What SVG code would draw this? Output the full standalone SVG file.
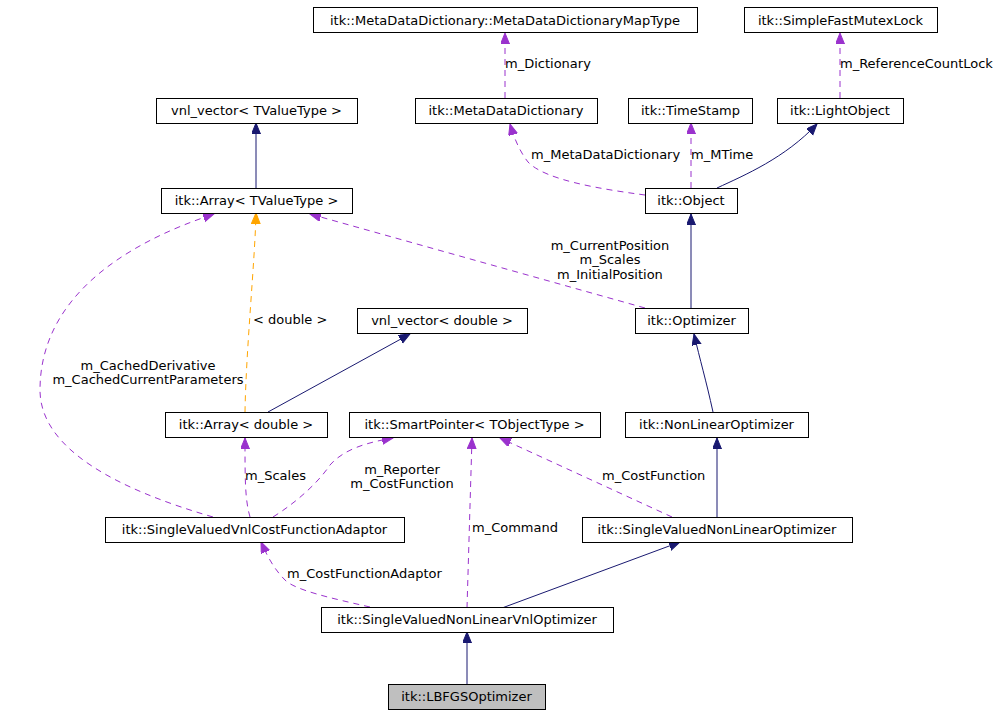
<svg xmlns="http://www.w3.org/2000/svg" width="1004" height="715" viewBox="0 0 1004 715">
<defs>
<style>
.n rect{fill:#fff;stroke:#000;stroke-width:1}
.n text,.lb{font-family:"DejaVu Sans",sans-serif;font-size:13px;fill:#000;text-anchor:middle}
.lb{text-anchor:start}
.lc{text-anchor:middle}
.inh{fill:none;stroke:#191970;stroke-width:1}
.use{fill:none;stroke:#9a32cd;stroke-width:1;stroke-dasharray:6,5}
.tpl{fill:none;stroke:#ffa500;stroke-width:1;stroke-dasharray:6,5}
</style>
<marker id="aN" markerUnits="userSpaceOnUse" markerWidth="12" markerHeight="10" refX="11" refY="4.5" orient="auto"><path d="M0,0 L11,4.5 L0,9 z" fill="#191970" stroke="#191970"/></marker>
<marker id="aP" markerUnits="userSpaceOnUse" markerWidth="12" markerHeight="10" refX="11" refY="4.5" orient="auto"><path d="M0,0 L11,4.5 L0,9 z" fill="#9a32cd" stroke="#9a32cd"/></marker>
<marker id="aO" markerUnits="userSpaceOnUse" markerWidth="12" markerHeight="10" refX="11" refY="4.5" orient="auto"><path d="M0,0 L11,4.5 L0,9 z" fill="#ffa500" stroke="#ffa500"/></marker>
</defs>
<rect width="1004" height="715" fill="#fff"/>
<g id="edges">
<path class="use" d="M505,98 L505,33" marker-end="url(#aP)"/>
<path class="use" d="M840,98 L840,33" marker-end="url(#aP)"/>
<path class="inh" d="M256,188 L256,123" marker-end="url(#aN)"/>
<path class="use" d="M645,195 C600,189 545,180 528,162 C520,152 514,138 510,124" marker-end="url(#aP)"/>
<path class="use" d="M691,188 L691,123" marker-end="url(#aP)"/>
<path class="inh" d="M717,188 C745,175 785,158 817,124" marker-end="url(#aN)"/>
<path class="use" d="M645,308 L310,214" marker-end="url(#aP)"/>
<path class="inh" d="M691,308 L691,214" marker-end="url(#aN)"/>
<path class="inh" d="M713,412 C706,380 700,360 694,334" marker-end="url(#aN)"/>
<path class="inh" d="M268,412 L410,334" marker-end="url(#aN)"/>
<path class="tpl" d="M245,412 C246,350 255,260 256,213" marker-end="url(#aO)"/>
<path class="use" d="M213,517 C120,490 40,450 40,390 C40,300 120,245 214,214" marker-end="url(#aP)"/>
<path class="use" d="M250,517 C245,500 245,480 245,438" marker-end="url(#aP)"/>
<path class="use" d="M273,517 C300,500 320,480 330,465 C345,448 370,442 393,438" marker-end="url(#aP)"/>
<path class="use" d="M467,608 L472,438" marker-end="url(#aP)"/>
<path class="use" d="M672,517 L500,438" marker-end="url(#aP)"/>
<path class="inh" d="M717,517 L717,438" marker-end="url(#aN)"/>
<path class="inh" d="M502,608 L680,542" marker-end="url(#aN)"/>
<path class="use" d="M370,607 C330,598 295,590 285,580 C275,570 268,558 261,542" marker-end="url(#aP)"/>
<path class="inh" d="M467,684 L467,632" marker-end="url(#aN)"/>
<text class="lb" x="505" y="68">m_Dictionary</text>
<text class="lb" x="840" y="68">m_ReferenceCountLock</text>
<text class="lb" x="531" y="159">m_MetaDataDictionary</text>
<text class="lb" x="691" y="159">m_MTime</text>
<text class="lb lc" x="610" y="250">m_CurrentPosition</text>
<text class="lb lc" x="610" y="264">m_Scales</text>
<text class="lb lc" x="610" y="279">m_InitialPosition</text>
<text class="lb" x="253" y="324">&lt; double &gt;</text>
<text class="lb lc" x="148" y="370">m_CachedDerivative</text>
<text class="lb lc" x="148" y="384">m_CachedCurrentParameters</text>
<text class="lb" x="245" y="480">m_Scales</text>
<text class="lb lc" x="402" y="474">m_Reporter</text>
<text class="lb lc" x="402" y="488">m_CostFunction</text>
<text class="lb" x="602" y="480">m_CostFunction</text>
<text class="lb" x="472" y="532">m_Command</text>
<text class="lb" x="287" y="578">m_CostFunctionAdaptor</text>
</g>
<g id="n1" class="n"><rect x="313.5" y="7.5" width="384" height="25"/><text x="505" y="24.5">itk::MetaDataDictionary::MetaDataDictionaryMapType</text></g>
<g id="n2" class="n"><rect x="744.5" y="7.5" width="193" height="25"/><text x="840.5" y="24.5">itk::SimpleFastMutexLock</text></g>
<g id="n3" class="n"><rect x="156.5" y="98.5" width="201" height="25"/><text x="256.5" y="115">vnl_vector&lt; TValueType &gt;</text></g>
<g id="n4" class="n"><rect x="415.5" y="98.5" width="182" height="25"/><text x="506" y="115">itk::MetaDataDictionary</text></g>
<g id="n5" class="n"><rect x="628.5" y="98.5" width="124" height="25"/><text x="690.5" y="115">itk::TimeStamp</text></g>
<g id="n6" class="n"><rect x="777.5" y="98.5" width="126" height="25"/><text x="840" y="115">itk::LightObject</text></g>
<g id="n7" class="n"><rect x="161.5" y="188.5" width="191" height="25"/><text x="256.5" y="205">itk::Array&lt; TValueType &gt;</text></g>
<g id="n8" class="n"><rect x="645.5" y="188.5" width="92" height="25"/><text x="691" y="205">itk::Object</text></g>
<g id="n9" class="n"><rect x="357.5" y="308.5" width="170" height="25"/><text x="442" y="325">vnl_vector&lt; double &gt;</text></g>
<g id="n10" class="n"><rect x="635.5" y="308.5" width="113" height="25"/><text x="691.5" y="325">itk::Optimizer</text></g>
<g id="n11" class="n"><rect x="165.5" y="412.5" width="162" height="25"/><text x="246" y="429">itk::Array&lt; double &gt;</text></g>
<g id="n12" class="n"><rect x="349.5" y="412.5" width="251" height="25"/><text x="474.5" y="429">itk::SmartPointer&lt; TObjectType &gt;</text></g>
<g id="n13" class="n"><rect x="625.5" y="412.5" width="183" height="25"/><text x="716.5" y="429">itk::NonLinearOptimizer</text></g>
<g id="n14" class="n"><rect x="105.5" y="517.5" width="299" height="25"/><text x="254.5" y="534">itk::SingleValuedVnlCostFunctionAdaptor</text></g>
<g id="n15" class="n"><rect x="582.5" y="517.5" width="270" height="25"/><text x="717" y="534">itk::SingleValuedNonLinearOptimizer</text></g>
<g id="n16" class="n"><rect x="321.5" y="607.5" width="292" height="25"/><text x="467" y="624">itk::SingleValuedNonLinearVnlOptimizer</text></g>
<g id="n17" class="n"><rect x="388.5" y="684.5" width="157" height="25" style="fill:#bfbfbf"/><text x="466.5" y="701">itk::LBFGSOptimizer</text></g>
</svg>
